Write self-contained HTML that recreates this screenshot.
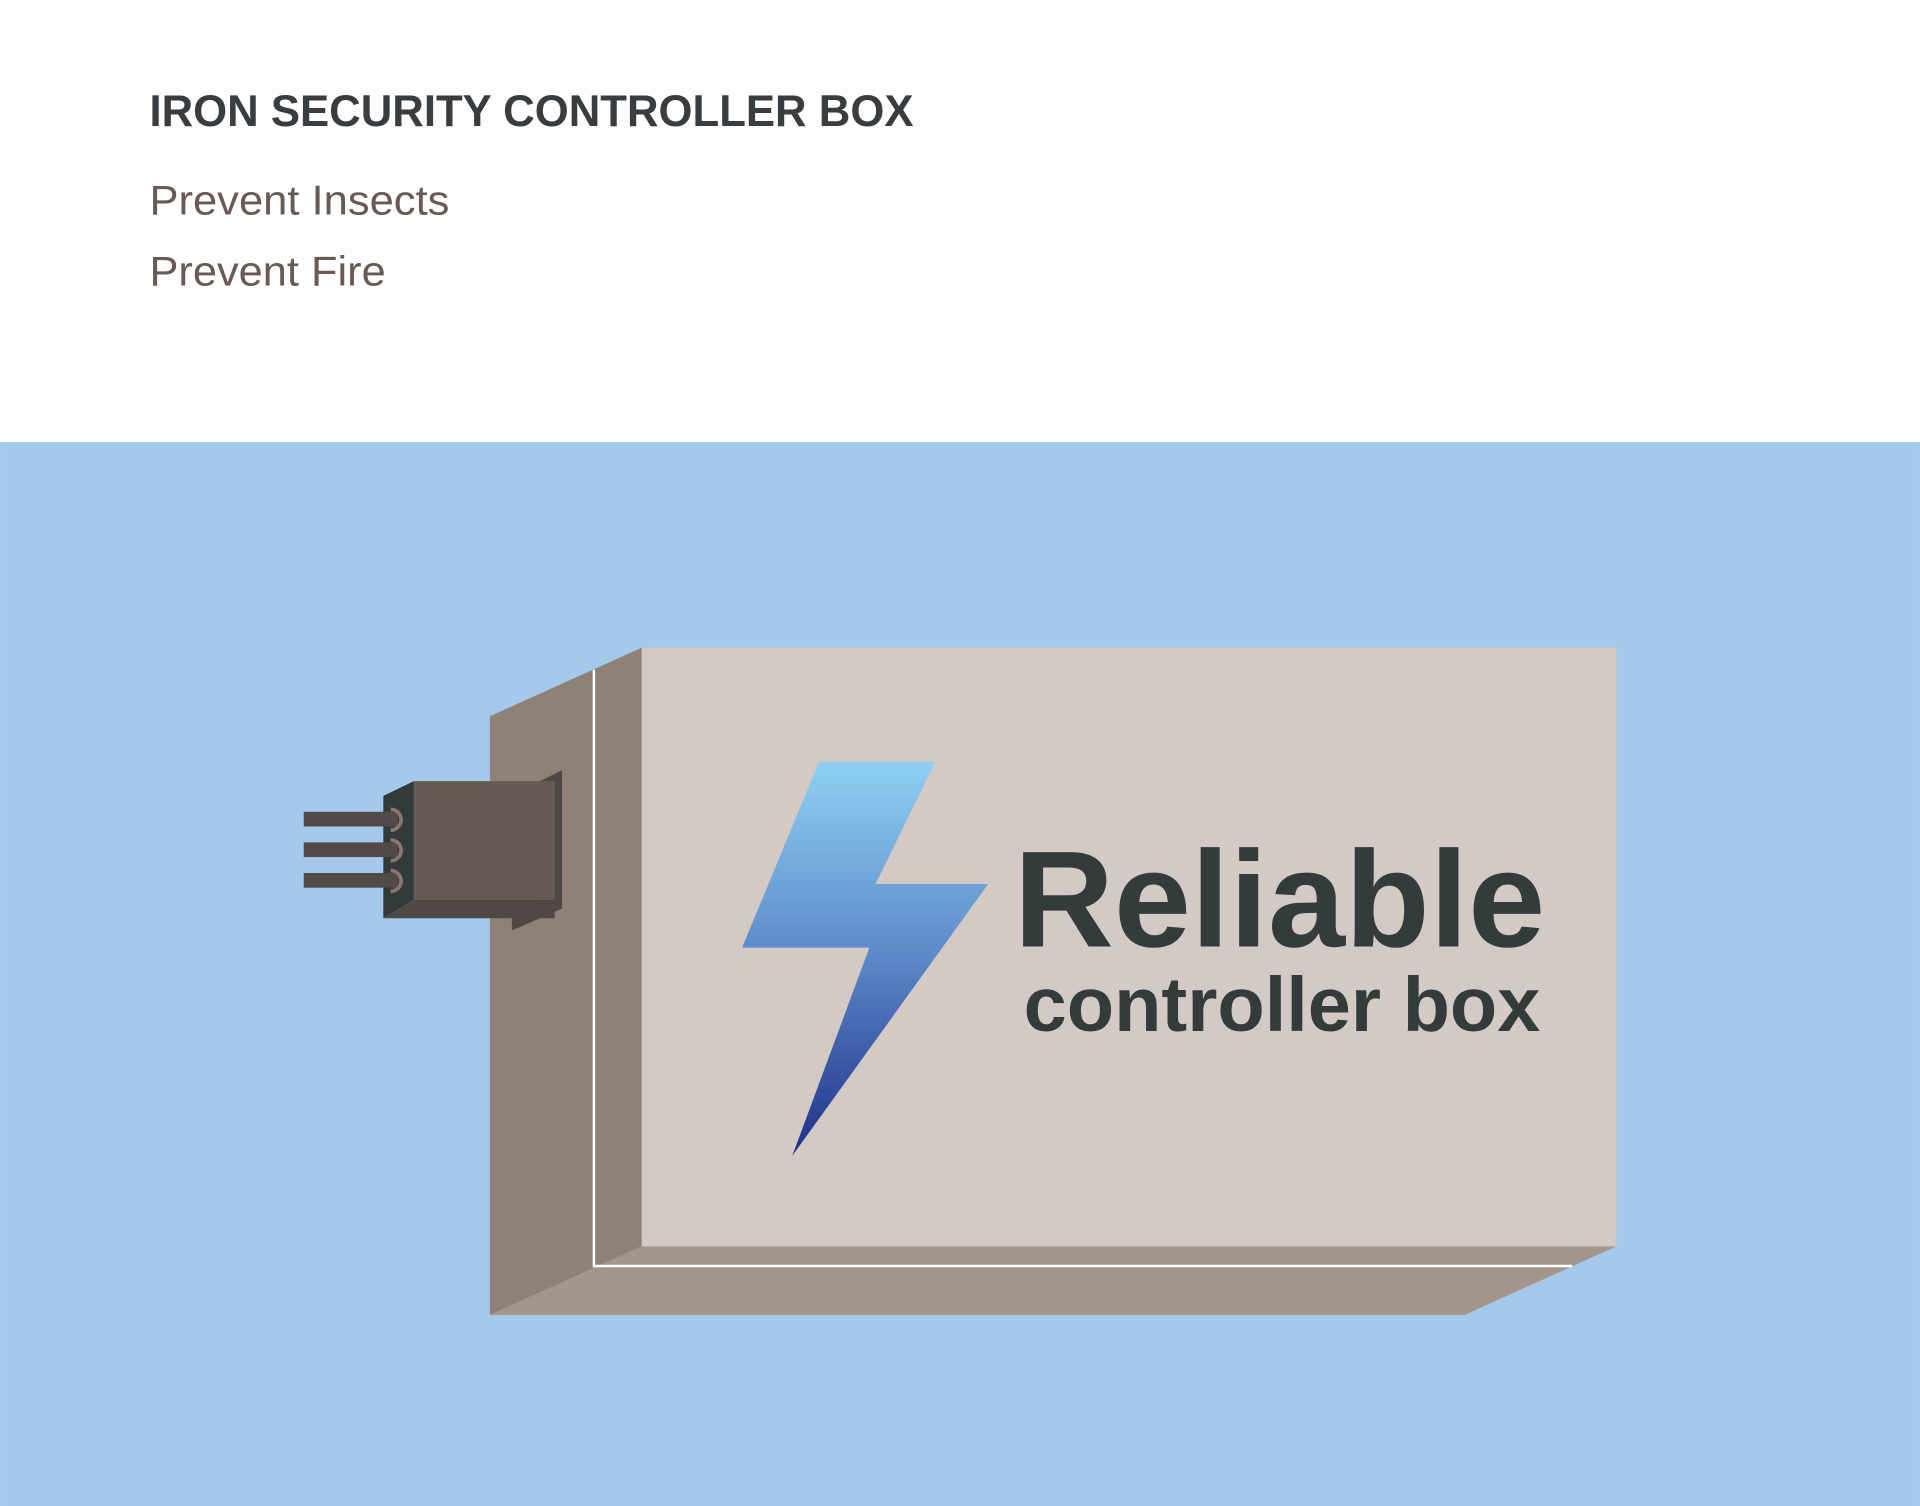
<!DOCTYPE html>
<html><head><meta charset="utf-8"><style>html,body{margin:0;padding:0;background:#fdfdfd;}svg{display:block}</style></head>
<body>
<svg width="1920" height="1506" viewBox="0 0 1568 1230" xmlns="http://www.w3.org/2000/svg">
<defs>
<linearGradient id="g" x1="0" y1="0" x2="0" y2="1">
<stop offset="0" stop-color="#8fd0f2"/>
<stop offset="0.5" stop-color="#5b88c8"/>
<stop offset="1" stop-color="#1f2f88"/>
</linearGradient>
</defs>
<rect x="0" y="0" width="1568" height="361" fill="#fdfdfd"/>
<rect x="0" y="361" width="1568" height="869" fill="#a4c9ea"/>
<text x="122" y="103" font-family="Liberation Sans, sans-serif" font-weight="bold" font-size="36" fill="#3a3d3f" textLength="624" lengthAdjust="spacingAndGlyphs">IRON SECURITY CONTROLLER BOX</text>
<text x="122" y="175" font-family="Liberation Sans, sans-serif" font-size="34" fill="#6a5a55" textLength="245" lengthAdjust="spacingAndGlyphs">Prevent Insects</text>
<text x="122" y="233" font-family="Liberation Sans, sans-serif" font-size="34" fill="#6a5a55" textLength="193" lengthAdjust="spacingAndGlyphs">Prevent Fire</text>
<rect x="524" y="529" width="796" height="489" fill="#d3cac6"/>
<polygon points="400,585 524,529 524,1018 400,1074" fill="#8f8178"/>
<polygon points="400,1074 524,1018 1320,1018 1196,1074" fill="#a5968d"/>
<polyline points="485,547 485,1034 1284,1034" fill="none" stroke="#ffffff" stroke-width="2"/>
<polygon points="437,640 459,629 459,742 418,760 418,748 437,748" fill="#4f4845"/>
<polygon points="313,650 338,638 338,735 313,750" fill="#333a3a"/>
<polygon points="313,750 338,735 453,735 453,750" fill="#4f4845"/>
<rect x="338" y="638" width="115" height="97" fill="#665a54"/>
<rect x="248" y="663" width="77" height="12" fill="#514a47"/>
<rect x="248" y="688" width="77" height="12" fill="#514a47"/>
<rect x="248" y="713" width="77" height="12" fill="#514a47"/>
<g fill="none" stroke="#8a7870" stroke-width="3">
<path d="M319,661 A8.5,8.5 0 1,1 319,678"/>
<path d="M319,686 A8.5,8.5 0 1,1 319,703"/>
<path d="M319,711 A8.5,8.5 0 1,1 319,728"/>
</g>
<polygon points="669,622 764,622 715,722 807,722 647,944 710,774 606,774" fill="url(#g)"/>
<text x="828" y="773" font-family="Liberation Sans, sans-serif" font-weight="bold" font-size="112" fill="#343c3b" textLength="434" lengthAdjust="spacingAndGlyphs">Reliable</text>
<text x="836" y="842" font-family="Liberation Sans, sans-serif" font-weight="bold" font-size="63" fill="#343c3b" textLength="422" lengthAdjust="spacingAndGlyphs">controller box</text>
</svg>
</body></html>
